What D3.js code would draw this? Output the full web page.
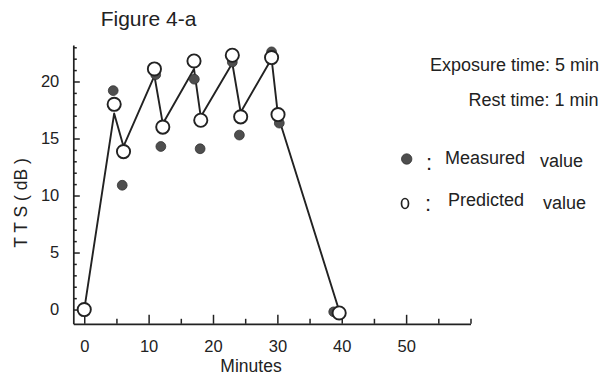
<!DOCTYPE html>
<html>
<head>
<meta charset="utf-8">
<script src="https://cdn.jsdelivr.net/npm/d3@7"></script>
<style>
  html, body { margin: 0; padding: 0; background: #fff; }
  svg { display: block; font-family: "Liberation Sans", Arial, Helvetica, sans-serif; }
</style>
</head>
<body>
<svg id="chart" width="616" height="376"></svg>
<script>
// Time points (minutes) of the predicted values and of the model curve
const predMinutes = [0, 4.65, 6.1, 10.9, 12.2, 17.05, 18.1, 23.0, 24.3, 29.1, 30.1, 39.6];
// Predicted TTS (dB) – open circles
const predictedTTS = [0, 18.0, 13.85, 21.1, 16.0, 21.8, 16.6, 22.3, 16.9, 22.1, 17.1, -0.3];
// Model curve vertices (dB), drawn through the same time points
const curveTTS = [0, 17.2, 14.3, 20.5, 16.3, 21.1, 16.9, 21.6, 17.3, 22.0, 17.0, -0.1];

// Measured TTS (dB) – filled dots
const measMinutes = [4.5, 5.9, 11.1, 11.9, 17.1, 18.0, 23.0, 24.1, 29.1, 30.3, 38.75];
const measuredTTS = [19.2, 10.9, 20.6, 14.3, 20.2, 14.1, 21.7, 15.3, 22.6, 16.35, -0.2];

// Axis ticks
const xTicks = [0, 5, 10, 15, 20, 25, 30, 35, 40, 45, 50, 55, 60];
const xTickLabels = [0, 10, 20, 30, 40, 50];
const yTicks = d3.range(0, 24, 1);
const yTickLabels = [0, 5, 10, 15, 20];

const svg = d3.select("#chart");
const ink = "#222";

const x = d3.scaleLinear().domain([-1.7, 60]).range([73.3, 470.5]);
const y = d3.scaleLinear().domain([-1.25, 23.2]).range([323.8, 45]);

// ---- axes ----
const xAxis = d3.axisBottom(x)
  .tickValues(xTicks)
  .tickSizeOuter(0)
  .tickPadding(13)
  .tickFormat(d => xTickLabels.includes(d) ? d : "");
const gx = svg.append("g").attr("transform", `translate(0,${y.range()[0]})`).call(xAxis);
gx.select(".domain").attr("stroke", ink).attr("stroke-width", 1.7);
gx.selectAll(".tick line")
  .attr("stroke", ink).attr("stroke-width", 1.5)
  .attr("y2", d => (d % 10 === 0 && d < 60) ? -9 : -5);
gx.selectAll(".tick text")
  .attr("fill", ink).attr("font-size", 16.5).attr("dy", "0.55em")
  .attr("font-family", "Liberation Sans, Arial, sans-serif");

const yAxis = d3.axisLeft(y)
  .tickValues(yTicks)
  .tickSizeOuter(0)
  .tickPadding(8)
  .tickFormat(d => yTickLabels.includes(d) ? d : "");
const gy = svg.append("g").attr("transform", `translate(${x.range()[0]},0)`).call(yAxis);
gy.select(".domain").attr("stroke", ink).attr("stroke-width", 1.7);
gy.selectAll(".tick line")
  .attr("stroke", ink).attr("stroke-width", 1.5)
  .attr("x2", d => d % 5 === 0 ? 6.5 : 3.5);
gy.selectAll(".tick text")
  .attr("fill", ink).attr("font-size", 16.5)
  .attr("font-family", "Liberation Sans, Arial, sans-serif");

// ---- model curve ----
const curvePts = predMinutes.map((m, i) => [m, curveTTS[i]]);
svg.append("path")
  .datum(curvePts)
  .attr("fill", "none")
  .attr("stroke", ink)
  .attr("stroke-width", 1.9)
  .attr("stroke-linejoin", "round")
  .attr("d", d3.line().x(d => x(d[0])).y(d => y(d[1])));

// ---- measured values ----
svg.append("g").selectAll("circle")
  .data(measMinutes.map((m, i) => [m, measuredTTS[i]]))
  .join("circle")
  .attr("cx", d => x(d[0]))
  .attr("cy", d => y(d[1]))
  .attr("r", 4.9)
  .attr("fill", "#4e4e4e")
  .attr("stroke", "#333")
  .attr("stroke-width", 0.8);

// ---- predicted values ----
svg.append("g").selectAll("circle")
  .data(predMinutes.map((m, i) => [m, predictedTTS[i]]))
  .join("circle")
  .attr("cx", d => x(d[0]))
  .attr("cy", d => y(d[1]))
  .attr("r", 6.6)
  .attr("fill", "#fff")
  .attr("stroke", ink)
  .attr("stroke-width", 1.9);

// ---- titles ----
svg.append("text")
  .attr("x", 100.7).attr("y", 26)
  .attr("font-size", 21).attr("fill", ink)
  .text("Figure 4-a");

svg.append("text")
  .attr("x", 251).attr("y", 372)
  .attr("text-anchor", "middle")
  .attr("font-size", 17.5).attr("fill", ink)
  .text("Minutes");

svg.append("text")
  .attr("transform", "translate(27,203) rotate(-90)")
  .attr("text-anchor", "middle")
  .attr("font-size", 17.5).attr("fill", ink)
  .text("T T S ( dB )");

// ---- annotations ----
svg.append("text")
  .attr("x", 599).attr("y", 70.7)
  .attr("text-anchor", "end")
  .attr("font-size", 18).attr("fill", ink)
  .text("Exposure time: 5 min");

svg.append("text")
  .attr("x", 598.5).attr("y", 106)
  .attr("text-anchor", "end")
  .attr("font-size", 18).attr("fill", ink)
  .text("Rest time: 1 min");

// ---- legend ----
const legend = svg.append("g");
legend.append("circle")
  .attr("cx", 406.7).attr("cy", 159).attr("r", 5.2)
  .attr("fill", "#4e4e4e").attr("stroke", "#333").attr("stroke-width", 0.8);
legend.append("text").attr("x", 426).attr("y", 170).attr("font-size", 22).attr("fill", ink).text(":");
legend.append("text").attr("x", 445).attr("y", 164).attr("font-size", 18).attr("fill", ink).text("Measured");
legend.append("text").attr("x", 540).attr("y", 167).attr("font-size", 18).attr("fill", ink).text("value");

legend.append("ellipse")
  .attr("cx", 405).attr("cy", 203.5).attr("rx", 3.5).attr("ry", 5)
  .attr("fill", "none").attr("stroke", ink).attr("stroke-width", 1.7);
legend.append("text").attr("x", 425).attr("y", 211).attr("font-size", 22).attr("fill", ink).text(":");
legend.append("text").attr("x", 448).attr("y", 205.5).attr("font-size", 18).attr("fill", ink).text("Predicted");
legend.append("text").attr("x", 543).attr("y", 209).attr("font-size", 18).attr("fill", ink).text("value");
</script>
</body>
</html>
